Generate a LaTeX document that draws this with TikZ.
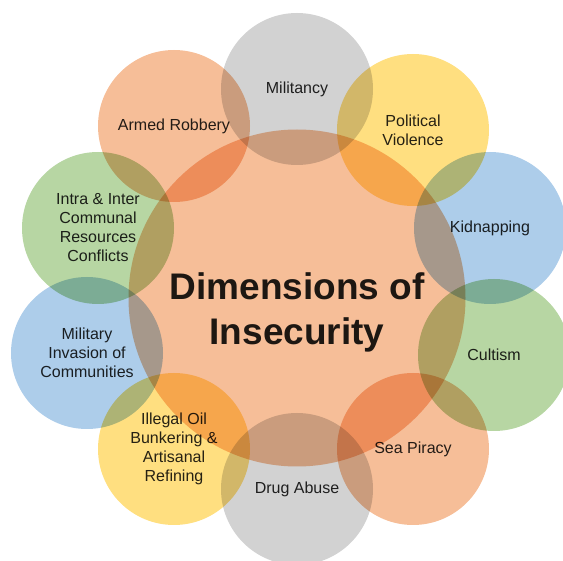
\documentclass[tikz,border=0pt]{standalone}
\usepackage{fontspec}
\setmainfont{Liberation Sans}
\definecolor{secOrange}{HTML}{F6BE98}
\definecolor{secGray}{HTML}{D2D2D2}
\definecolor{secYellow}{HTML}{FFDF80}
\definecolor{secBlue}{HTML}{ADCDEA}
\definecolor{secGreen}{HTML}{B7D6A3}
\newcommand{\setup}{
    \coordinate (c0) at (297,298);

    \coordinate (c1) at (297,89);
    \coordinate (c2) at (413,130);
    \coordinate (c3) at (490,228);
    \coordinate (c4) at (494,355);
    \coordinate (c5) at (413,449);
    \coordinate (c6) at (297,489);
    \coordinate (c7) at (174,449);
    \coordinate (c8) at (87,353);
    \coordinate (c9) at (98,228);
    \coordinate (c10) at (174,126);
}
\tikzset{
    ring/.style={circle,inner sep=0pt,minimum size=152pt,align=center,
        text=black!85,font=\fontsize{16}{19}\selectfont,fill=#1},
    hub/.style={circle,inner sep=0pt,minimum size=337pt,align=center,
        text=black!88,font=\fontsize{37}{45}\selectfont\bfseries,fill=secOrange}
}

\begin{document}
\begin{tikzpicture}[x=1pt,y=-1pt]
          \useasboundingbox (0,0) rectangle (563,561);
          \clip (0,0) rectangle (563,561);
          \setup;

          \begin{scope}[blend group=multiply]
          % centre circle, text a bit below the middle
          \node[hub] (hub) at (c0) {\raisebox{-21pt}[0pt][0pt]{\parbox{300pt}{\centering Dimensions of\\ Insecurity}}};

          \node[ring=secGray] (militancy) at (c1) {Militancy};
          \node[ring=secYellow] (political) at (c2) {Political\\ Violence};
          \node[ring=secBlue] (kidnapping) at (c3) {Kidnapping};
          \node[ring=secGreen] (cultism) at (c4) {Cultism};
          \node[ring=secOrange] (piracy) at (c5) {Sea Piracy};
          \node[ring=secGray] (drugs) at (c6) {Drug Abuse};
          \node[ring=secYellow] (oil) at (c7) {Illegal Oil\\ Bunkering \&\\ Artisanal\\ Refining};
          \node[ring=secBlue] (invasion) at (c8) {Military\\ Invasion of\\ Communities};
          \node[ring=secGreen] (communal) at (c9) {Intra \& Inter\\ Communal\\ Resources\\ Conflicts};
          \node[ring=secOrange] (robbery) at (c10) {Armed Robbery};
          \end{scope}
        \end{tikzpicture}
\end{document}
